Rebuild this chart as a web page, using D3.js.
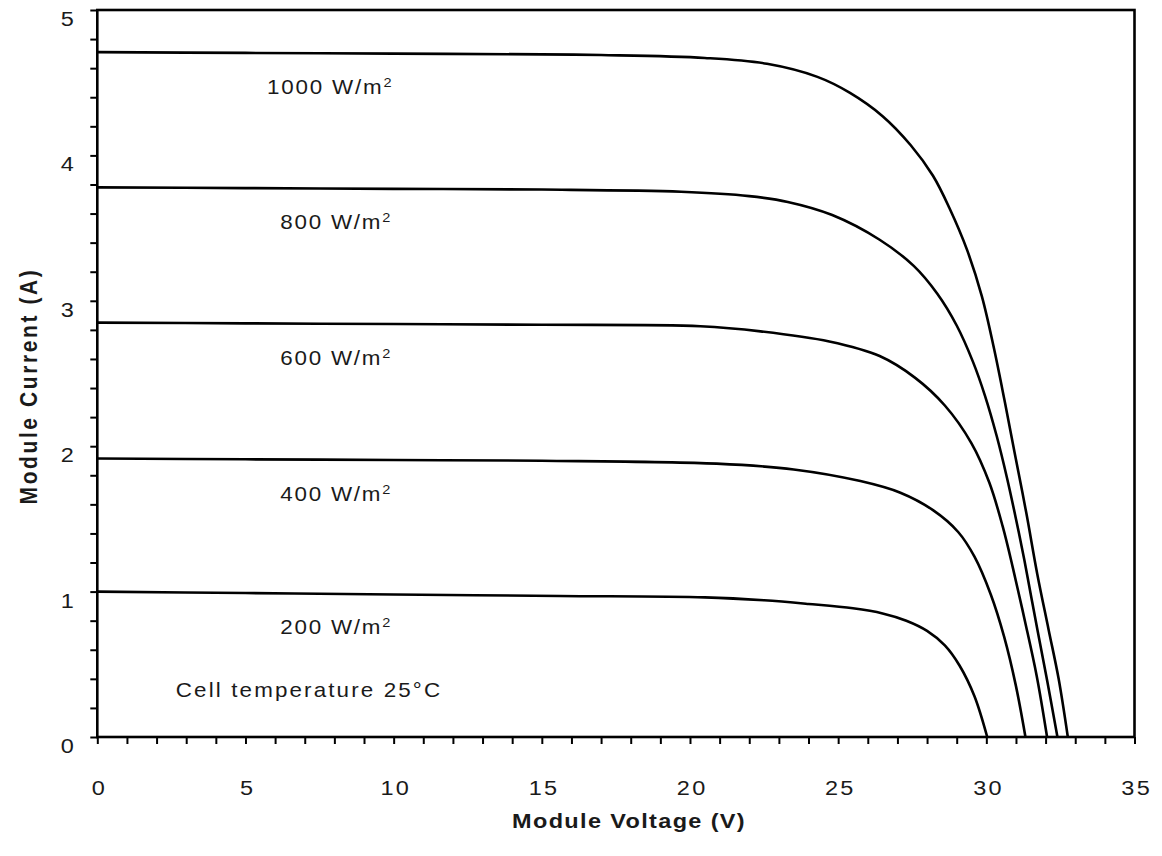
<!DOCTYPE html>
<html>
<head>
<meta charset="utf-8">
<script src="https://cdn.jsdelivr.net/npm/d3@7"></script>
<style>
  body { margin: 0; background: #fff; }
  svg text { font-family: "Liberation Sans", Arial, sans-serif; fill: #1a1a1a; }
</style>
</head>
<body>
<div id="chart"></div>
<script>
// I-V curves of a PV module, [voltage V, current A]
const iv1000 = [[0,4.71],[5,4.705],[10,4.70],[15,4.695],[17,4.69],[20.5,4.67],[22.6,4.63],[24.3,4.54],[25.4,4.43],[26.5,4.27],[27.45,4.07],[28.2,3.86],[28.75,3.64],[29.35,3.35],[29.85,3.03],[30.25,2.68],[30.6,2.33],[30.95,1.96],[31.35,1.54],[31.72,1.12],[32.1,0.74],[32.44,0.40],[32.75,0]];
const iv800 = [[0,3.78],[5,3.775],[10,3.77],[15,3.765],[19.7,3.75],[22.0,3.72],[23.3,3.68],[24.8,3.59],[26.4,3.42],[27.55,3.24],[28.34,3.05],[29.0,2.83],[29.55,2.58],[29.95,2.35],[30.35,2.07],[30.7,1.78],[31.0,1.50],[31.28,1.22],[31.5,0.98],[31.74,0.72],[32.06,0.38],[32.4,0]];
const iv600 = [[0,2.85],[5,2.845],[10,2.84],[15,2.835],[20.35,2.825],[22.38,2.79],[24.7,2.72],[26.4,2.62],[27.6,2.47],[28.6,2.28],[29.5,2.02],[30.1,1.75],[30.55,1.45],[30.9,1.16],[31.3,0.80],[31.7,0.42],[32.05,0]];
const iv400 = [[0,1.915],[5,1.91],[10,1.905],[15,1.90],[20.9,1.88],[23.5,1.84],[25.75,1.76],[27.1,1.68],[28.2,1.56],[29.05,1.41],[29.6,1.24],[30.15,0.98],[30.6,0.69],[31.0,0.35],[31.32,0]];
const iv200 = [[0,1.0],[5,0.99],[10,0.98],[15.6,0.97],[20.5,0.96],[22.5,0.94],[24,0.915],[25.5,0.885],[26.5,0.85],[27.3,0.80],[28.0,0.73],[28.6,0.63],[29.1,0.49],[29.6,0.28],[30.03,0]];

const irradiance = ["1000", "800", "600", "400", "200"];
const series = [iv1000, iv800, iv600, iv400, iv200];

const voltageTicks = d3.range(0, 36, 1);
const currentTicks = d3.range(0, 26).map(d => d / 5);

const width = 1162, height = 856;
const margin = {top: 10, right: 27.5, bottom: 119, left: 97.3};
const sx = 1.12; // the source lettering is a little wider than Arial

const svg = d3.select("#chart").append("svg")
    .attr("width", width)
    .attr("height", height);

const x = d3.scaleLinear().domain([0, 35]).range([margin.left, width - margin.right]);
const y = d3.scaleLinear().domain([0, 5]).range([height - margin.bottom, margin.top]);

// x axis, minor tick every volt, label every 5
const xAxis = svg.append("g")
    .attr("transform", `translate(0,${y(0)})`)
    .call(d3.axisBottom(x)
        .tickValues(voltageTicks)
        .tickFormat(d => d % 5 === 0 ? d : "")
        .tickSize(7)
        .tickPadding(36));
xAxis.select(".domain").remove();
xAxis.selectAll("line").attr("stroke", "#000").attr("stroke-width", 2);
xAxis.selectAll("text")
    .attr("font-size", 21).attr("fill", "#1a1a1a").attr("font-family", null)
    .attr("letter-spacing", 2).attr("dx", 1.5)
    .attr("transform", `scale(${sx},1)`);

const yAxis = svg.append("g")
    .attr("transform", `translate(${x(0)},0)`)
    .call(d3.axisLeft(y)
        .tickValues(currentTicks)
        .tickFormat(d => Math.abs(d - Math.round(d)) < 1e-6 ? Math.round(d) : "")
        .tickSize(7)
        .tickPadding(14));
yAxis.select(".domain").remove();
yAxis.selectAll("line").attr("stroke", "#000").attr("stroke-width", 2);
yAxis.selectAll("text")
    .attr("font-size", 21).attr("fill", "#1a1a1a").attr("font-family", null)
    .attr("x", -21).attr("dy", 15.5)
    .attr("transform", `scale(${sx},1)`);

// plot frame
svg.append("rect")
    .attr("x", x(0)).attr("y", y(5))
    .attr("width", x(35) - x(0)).attr("height", y(0) - y(5))
    .attr("fill", "none").attr("stroke", "#000").attr("stroke-width", 2.6);

const line = d3.line()
    .x(d => x(d[0]))
    .y(d => y(d[1]))
    .curve(d3.curveCatmullRom.alpha(0.5));

svg.append("g").selectAll("path")
    .data(series)
    .join("path")
    .attr("d", line)
    .attr("fill", "none")
    .attr("stroke", "#000")
    .attr("stroke-width", 2.6);

// curve labels, under the flat part of each curve
const labels = svg.append("g").selectAll("text")
    .data(series)
    .join("text")
    .attr("transform", (d, i) =>
        `translate(${i === 0 ? x(5.73) : x(6.17)},${y(d[0][1]) + 42}) scale(${sx},1)`)
    .attr("font-size", 20)
    .attr("letter-spacing", 1.6);
labels.append("tspan").text((d, i) => irradiance[i] + " W/m");
labels.append("tspan").text("2").attr("font-size", 13).attr("dy", -7);

svg.append("text")
    .attr("transform", `translate(${x(2.65)},${y(0) - 40}) scale(${sx},1)`)
    .attr("font-size", 20)
    .attr("letter-spacing", 1.9)
    .text("Cell temperature 25°C");

svg.append("text")
    .attr("transform", `translate(629,828) scale(${sx},1)`)
    .attr("text-anchor", "middle")
    .attr("font-size", 21)
    .attr("font-weight", "bold")
    .attr("letter-spacing", 1.2)
    .text("Module Voltage (V)");

svg.append("text")
    .attr("transform", "translate(37,386) rotate(-90) scale(1,1.12)")
    .attr("text-anchor", "middle")
    .attr("font-size", 21)
    .attr("font-weight", "bold")
    .attr("letter-spacing", 2.6)
    .text("Module Current (A)");
</script>
</body>
</html>
